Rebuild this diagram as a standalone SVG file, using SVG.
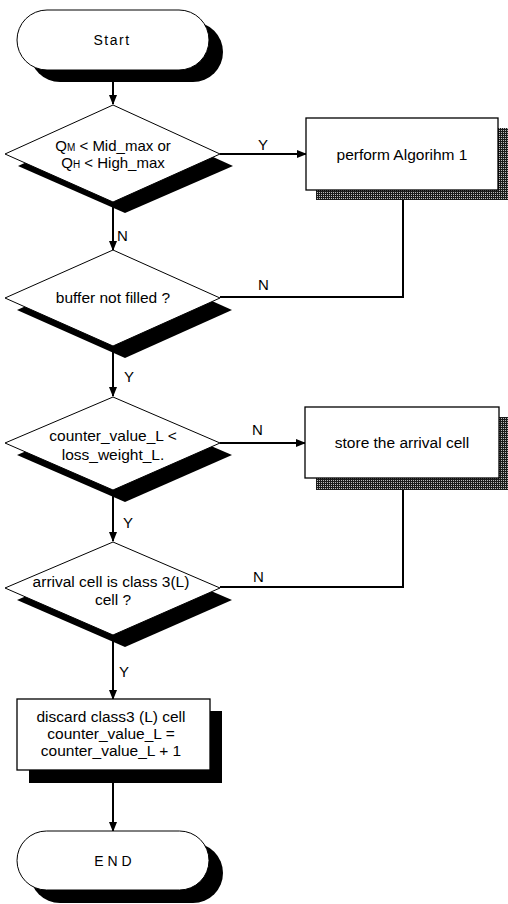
<svg xmlns="http://www.w3.org/2000/svg" width="508" height="904" viewBox="0 0 508 904">
<style>
.t{font-family:"Liberation Sans",Arial,sans-serif;font-size:15.5px;fill:#000;text-anchor:middle}
.lbl{font-family:"Liberation Sans",Arial,sans-serif;font-size:15px;fill:#000}
.shape{fill:#fff;stroke:#000;stroke-width:1}
.box{fill:#fff;stroke:#000;stroke-width:1.3}
.sh{fill:#000}
.conn{fill:none;stroke:#000;stroke-width:2}
</style>
<defs>
<pattern id="dither" width="2" height="2" patternUnits="userSpaceOnUse">
<rect width="2" height="2" fill="#1a1a1a"/>
<rect x="1" y="0" width="1" height="1" fill="#bbb"/>
</pattern>
<marker id="arr" markerWidth="10" markerHeight="8" refX="9" refY="4" orient="auto" markerUnits="userSpaceOnUse">
<path d="M0,0 L10,4 L0,8 Z" fill="#000"/>
</marker>
</defs>
<rect width="508" height="904" fill="#fff"/>
<g id="connectors">
<line class="conn" x1="113" y1="70" x2="113" y2="104" marker-end="url(#arr)"/>
<line class="conn" x1="220" y1="154" x2="306" y2="154" marker-end="url(#arr)"/>
<line class="conn" x1="113" y1="202" x2="113" y2="250" marker-end="url(#arr)"/>
<polyline class="conn" points="403,190 403,297 220,297"/>
<line class="conn" x1="113" y1="346" x2="113" y2="396" marker-end="url(#arr)"/>
<line class="conn" x1="220" y1="443" x2="305" y2="443" marker-end="url(#arr)"/>
<line class="conn" x1="113" y1="490" x2="113" y2="541" marker-end="url(#arr)"/>
<polyline class="conn" points="403,478 403,587 220,587"/>
<line class="conn" x1="113" y1="635" x2="113" y2="699" marker-end="url(#arr)"/>
<line class="conn" x1="113" y1="770" x2="113" y2="831" marker-end="url(#arr)"/>
<text class="lbl" x="258" y="150">Y</text>
<text class="lbl" x="117" y="241">N</text>
<text class="lbl" x="258" y="290">N</text>
<text class="lbl" x="124" y="382">Y</text>
<text class="lbl" x="252" y="435">N</text>
<text class="lbl" x="123" y="528">Y</text>
<text class="lbl" x="253" y="582">N</text>
<text class="lbl" x="119" y="677">Y</text>
</g>
<g id="start">
<rect class="sh" x="30" y="22" width="193" height="60" rx="30"/>
<rect class="shape" x="17" y="10" width="192" height="60" rx="30"/>
<text class="t" x="112" y="45" style="font-size:14px;letter-spacing:1.5px">Start</text>
</g>
<g id="d1">
<polygon class="sh" points="125,117 233,166 125,213 18,166"/>
<polygon class="shape" points="113,105 220,154 113,202 5,154"/>
<text class="t" x="113" y="151" style="font-size:15px">Q<tspan style="font-size:10px">M</tspan> &lt; Mid_max or</text>
<text class="t" x="113" y="168" style="font-size:15px">Q<tspan style="font-size:10px">H</tspan> &lt; High_max</text>
</g>
<g id="algo1">
<rect x="316" y="128" width="195" height="72" fill="url(#dither)"/>
<rect class="box" x="306" y="118" width="192" height="72"/>
<text class="t" x="402" y="160">perform Algorihm 1</text>
</g>
<g id="d2">
<polygon class="sh" points="125,262 232,310 125,358 17,310"/>
<polygon class="shape" points="113,250 220,298 113,346 5,298"/>
<text class="t" x="113" y="303">buffer not filled ?</text>
</g>
<g id="d3">
<polygon class="sh" points="125,409 232,455 125,502 17,455"/>
<polygon class="shape" points="113,397 220,443 113,490 5,443"/>
<text class="t" x="113" y="441">counter_value_L &lt;</text>
<text class="t" x="113" y="460">loss_weight_L.</text>
</g>
<g id="store">
<rect x="316" y="417" width="195" height="73" fill="url(#dither)"/>
<rect class="box" x="305" y="407" width="194" height="71"/>
<text class="t" x="402" y="448">store the arrival cell</text>
</g>
<g id="d4">
<polygon class="sh" points="125,554 232,600 125,647 17,600"/>
<polygon class="shape" points="113,542 220,588 113,635 5,588"/>
<text class="t" x="111" y="587">arrival cell is class 3(L)</text>
<text class="t" x="113" y="605">cell ?</text>
</g>
<g id="discard">
<rect class="sh" x="29" y="711" width="193" height="72"/>
<rect class="box" x="17" y="699" width="193" height="71"/>
<text class="t" x="111" y="722">discard class3 (L) cell</text>
<text class="t" x="111" y="739">counter_value_L =</text>
<text class="t" x="111" y="756">counter_value_L + 1</text>
</g>
<g id="end">
<rect class="sh" x="30" y="843" width="193" height="60" rx="30"/>
<rect class="shape" x="17" y="831" width="192" height="59" rx="29.5"/>
<text class="t" x="113" y="866" style="font-size:14px">E N D</text>
</g>
</svg>
